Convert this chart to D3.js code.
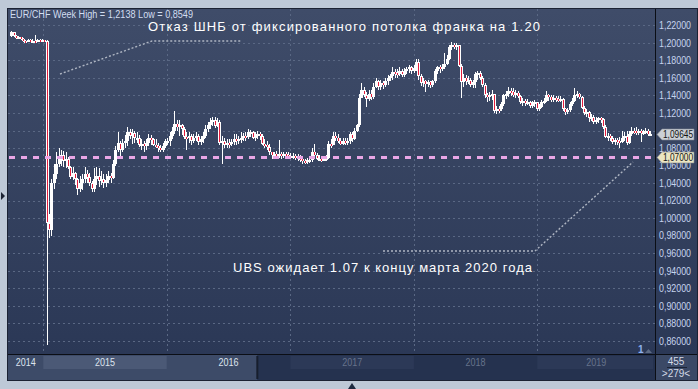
<!DOCTYPE html>
<html>
<head>
<meta charset="utf-8">
<script src="https://cdn.jsdelivr.net/npm/d3@7"></script>
<style>
  html, body { margin: 0; padding: 0; background: #bec9d7; }
  svg { display: block; font-family: "Liberation Sans", Arial, sans-serif; }
</style>
</head>
<body>
<svg id="chart" width="698" height="389"></svg>
<script>
// weekly EUR/CHF candles, first week starts 2014-09-28
const firstOpen = 1.2075;
const closes = [
  1.2120,1.2080,1.2060,1.2065,1.2040,1.2025,1.2020,1.2030,1.2020,1.2025,
  1.2020,1.2030,1.2025,1.2030,1.2020,0.9950,0.9870,1.0400,1.0500,1.0620,
  1.0680,1.0720,1.0650,1.0680,1.0580,1.0470,1.0520,1.0450,1.0330,1.0400,
  1.0450,1.0500,1.0470,1.0400,1.0330,1.0450,1.0480,1.0430,1.0450,1.0400,
  1.0440,1.0480,1.0460,1.0620,1.0780,1.0860,1.0780,1.0860,1.0880,1.0980,
  1.0940,1.0970,1.0920,1.0920,1.0830,1.0850,1.0820,1.0860,1.0920,1.0900,
  1.0840,1.0820,1.0800,1.0780,1.0820,1.0880,1.0880,1.0940,1.1000,1.1080,
  1.1040,1.1060,1.1020,1.0930,1.0920,1.0940,1.0880,1.0920,1.0940,1.0870,
  1.0900,1.0940,1.1020,1.1060,1.1100,1.1120,1.1050,1.1100,1.0860,1.0880,
  1.0840,1.0860,1.0850,1.0870,1.0900,1.0880,1.0900,1.0920,1.0940,1.0930,
  1.0980,1.0980,1.0920,1.0940,1.0960,1.0940,1.0850,1.0840,1.0810,1.0750,
  1.0720,1.0730,1.0720,1.0730,1.0720,1.0730,1.0720,1.0710,1.0700,1.0710,
  1.0700,1.0690,1.0680,1.0650,1.0640,1.0660,1.0660,1.0750,1.0720,1.0680,
  1.0680,1.0670,1.0680,1.0690,1.0850,1.0830,1.0940,1.0920,1.0880,1.0850,
  1.0880,1.0870,1.0880,1.0960,1.0900,1.1000,1.1060,1.1370,1.1460,1.1410,
  1.1360,1.1420,1.1380,1.1500,1.1560,1.1500,1.1540,1.1520,1.1560,1.1600,
  1.1620,1.1670,1.1660,1.1640,1.1680,1.1630,1.1680,1.1700,1.1720,1.1680,
  1.1710,1.1780,1.1620,1.1540,1.1560,1.1530,1.1550,1.1520,1.1560,1.1680,
  1.1720,1.1700,1.1730,1.1760,1.1820,1.1950,1.1980,1.1960,1.1970,1.1740,
  1.1550,1.1600,1.1570,1.1580,1.1520,1.1550,1.1640,1.1660,1.1600,1.1520,
  1.1400,1.1380,1.1400,1.1420,1.1220,1.1250,1.1240,1.1300,1.1400,1.1420,
  1.1450,1.1440,1.1400,1.1430,1.1390,1.1320,1.1340,1.1310,1.1330,1.1280,
  1.1300,1.1320,1.1250,1.1270,1.1320,1.1340,1.1400,1.1380,1.1350,1.1370,
  1.1360,1.1340,1.1360,1.1240,1.1210,1.1230,1.1300,1.1340,1.1400,1.1420,
  1.1380,1.1260,1.1200,1.1210,1.1140,1.1160,1.1100,1.1120,1.1140,1.1130,
  1.1040,1.0930,1.0940,1.0920,1.0870,1.0890,1.0880,1.0870,1.0920,1.0940,
  1.0860,1.0960,1.1000,1.0990,1.0970,1.0990,1.0970,1.0980,1.1000,1.0955,
  1.09645
];
const highs = [
  1.2138,1.2125,1.2090,1.2080,1.2070,1.2050,1.2035,1.2040,1.2040,1.2045,
  1.2090,1.2045,1.2040,1.2040,1.2035,1.2030,1.0050,1.0450,1.0620,1.0750,
  1.0800,1.0780,1.0770,1.0760,1.0700,1.0600,1.0580,1.0530,1.0460,1.0480,
  1.0500,1.0580,1.0550,1.0520,1.0420,1.0570,1.0580,1.0570,1.0540,1.0500,
  1.0500,1.0540,1.0520,1.0660,1.0820,1.0980,1.0880,1.0900,1.0950,1.1040,
  1.1020,1.1020,1.1000,1.0980,1.0950,1.0900,1.0880,1.0900,1.0960,1.0950,
  1.0920,1.0900,1.0860,1.0840,1.0860,1.0900,1.0920,1.0980,1.1040,1.1220,
  1.1120,1.1120,1.1080,1.1040,1.0980,1.0980,1.0960,1.0960,1.0980,1.0960,
  1.0940,1.0980,1.1060,1.1100,1.1140,1.1160,1.1150,1.1140,1.1120,1.0940,
  1.0920,1.0900,1.0900,1.0900,1.0960,1.0960,1.0940,1.0980,1.0970,1.0980,
  1.1020,1.1010,1.1000,1.0980,1.0990,1.0980,1.0960,1.0900,1.0880,1.0850,
  1.0760,1.0760,1.0770,1.0890,1.0760,1.0760,1.0760,1.0750,1.0740,1.0740,
  1.0730,1.0730,1.0720,1.0700,1.0680,1.0690,1.0700,1.0800,1.0850,1.0740,
  1.0720,1.0710,1.0710,1.0720,1.0880,1.0900,1.0980,1.0980,1.0960,1.0920,
  1.0910,1.0910,1.0920,1.0980,1.0980,1.1030,1.1080,1.1420,1.1540,1.1500,
  1.1440,1.1460,1.1460,1.1540,1.1600,1.1580,1.1580,1.1570,1.1600,1.1630,
  1.1650,1.1730,1.1700,1.1700,1.1720,1.1700,1.1710,1.1730,1.1750,1.1740,
  1.1750,1.1820,1.1820,1.1650,1.1600,1.1580,1.1580,1.1570,1.1580,1.1700,
  1.1740,1.1750,1.1760,1.1880,1.1860,1.1980,1.2005,1.2000,1.2000,1.1980,
  1.1760,1.1650,1.1630,1.1620,1.1600,1.1580,1.1670,1.1680,1.1680,1.1620,
  1.1540,1.1430,1.1440,1.1460,1.1420,1.1280,1.1280,1.1320,1.1420,1.1450,
  1.1500,1.1490,1.1480,1.1460,1.1450,1.1410,1.1370,1.1360,1.1360,1.1340,
  1.1340,1.1350,1.1330,1.1300,1.1350,1.1370,1.1450,1.1420,1.1400,1.1400,
  1.1390,1.1390,1.1390,1.1370,1.1260,1.1260,1.1320,1.1370,1.1480,1.1450,
  1.1430,1.1390,1.1280,1.1240,1.1220,1.1190,1.1180,1.1150,1.1160,1.1160,
  1.1140,1.1060,1.0970,1.0960,1.0940,1.0920,1.0910,1.0930,1.1000,1.0980,
  1.1000,1.0990,1.1040,1.1030,1.1040,1.1020,1.1020,1.1010,1.1030,1.1020,
  1.0990
];
const lows = [
  1.2065,1.2065,1.2045,1.2045,1.2030,1.2010,1.2005,1.2010,1.2010,1.2010,
  1.2010,1.2015,1.2015,1.2015,1.2005,0.8549,0.9770,0.9800,1.0330,1.0450,
  1.0580,1.0600,1.0580,1.0570,1.0560,1.0450,1.0440,1.0380,1.0260,1.0300,
  1.0320,1.0400,1.0400,1.0370,1.0300,1.0300,1.0380,1.0360,1.0380,1.0340,
  1.0360,1.0400,1.0400,1.0450,1.0600,1.0750,1.0700,1.0750,1.0800,1.0820,
  1.0900,1.0850,1.0860,1.0860,1.0810,1.0780,1.0760,1.0780,1.0820,1.0840,
  1.0820,1.0800,1.0760,1.0750,1.0760,1.0800,1.0830,1.0820,1.0900,1.0960,
  1.1000,1.0940,1.0950,1.0900,1.0780,1.0860,1.0840,1.0860,1.0880,1.0840,
  1.0840,1.0860,1.0920,1.0980,1.1020,1.1050,1.1030,1.1040,1.0840,1.0620,
  1.0800,1.0800,1.0800,1.0820,1.0830,1.0840,1.0850,1.0860,1.0880,1.0880,
  1.0900,1.0930,1.0900,1.0880,1.0900,1.0890,1.0830,1.0800,1.0780,1.0720,
  1.0680,1.0690,1.0690,1.0690,1.0680,1.0690,1.0680,1.0670,1.0670,1.0680,
  1.0660,1.0650,1.0640,1.0620,1.0620,1.0620,1.0630,1.0640,1.0700,1.0660,
  1.0650,1.0640,1.0650,1.0650,1.0680,1.0800,1.0830,1.0880,1.0860,1.0840,
  1.0840,1.0830,1.0840,1.0850,1.0870,1.0890,1.0980,1.1040,1.1380,1.1380,
  1.1270,1.1340,1.1350,1.1360,1.1480,1.1460,1.1460,1.1470,1.1500,1.1520,
  1.1560,1.1580,1.1600,1.1600,1.1620,1.1610,1.1610,1.1640,1.1660,1.1650,
  1.1660,1.1680,1.1580,1.1510,1.1500,1.1440,1.1500,1.1490,1.1500,1.1540,
  1.1640,1.1660,1.1680,1.1700,1.1750,1.1800,1.1920,1.1930,1.1920,1.1720,
  1.1370,1.1500,1.1520,1.1530,1.1500,1.1490,1.1480,1.1580,1.1580,1.1500,
  1.1370,1.1320,1.1340,1.1350,1.1200,1.1190,1.1200,1.1220,1.1280,1.1360,
  1.1380,1.1390,1.1380,1.1370,1.1370,1.1300,1.1280,1.1280,1.1290,1.1260,
  1.1260,1.1270,1.1220,1.1220,1.1260,1.1300,1.1320,1.1340,1.1330,1.1330,
  1.1330,1.1320,1.1320,1.1220,1.1180,1.1190,1.1210,1.1280,1.1330,1.1370,
  1.1360,1.1240,1.1180,1.1160,1.1100,1.1110,1.1080,1.1080,1.1090,1.1090,
  1.1020,1.0910,1.0880,1.0880,1.0850,1.0840,1.0840,1.0800,1.0860,1.0880,
  1.0840,1.0850,1.0940,1.0960,1.0950,1.0950,1.0870,1.0950,1.0960,1.0940,
  1.0940
];

const priceTicks = [0.86, 0.88, 0.90, 0.92, 0.94, 0.96, 0.98, 1.00, 1.02, 1.04,
                    1.06, 1.08, 1.10, 1.12, 1.14, 1.16, 1.18, 1.20, 1.22];
const gridYears = [2015, 2016, 2017, 2018, 2019];
const navYears = [2014, 2015, 2016, 2017, 2018, 2019];
const lastPrice = 1.09645;
const targetPrice = 1.07;
const titleText = "EUR/CHF Week High = 1,2138 Low = 0,8549";
const snbNote = "Отказ ШНБ от фиксированного потолка франка на 1.20";
const ubsNote = "UBS ожидает 1.07 к концу марта 2020 года";

const W = 698, H = 389;
const plot = {left: 8, right: 655, top: 9, bottom: 354};
const navBottom = 381;

const svg = d3.select("#chart");

let x = d3.scaleTime()
    .domain([new Date(2015, 0, 1), new Date(2019, 0, 1)])
    .range([43.3, 537.3]);
let y = d3.scaleLinear()
    .domain([0.86, 1.22])
    .range([341, 25.3]);
const fmt = d => d3.format(".5f")(d).replace(".", ",");

let defs = svg.append("defs");
let grad = defs.append("linearGradient")
    .attr("id", "bg")
    .attr("gradientUnits", "userSpaceOnUse")
    .attr("x1", 0).attr("y1", plot.top).attr("x2", 0).attr("y2", plot.bottom);
grad.append("stop").attr("offset", "0%").attr("stop-color", "#3f4c69");
grad.append("stop").attr("offset", "100%").attr("stop-color", "#2b3856");
defs.append("clipPath").attr("id", "clip")
    .append("rect")
    .attr("x", plot.left).attr("y", plot.top)
    .attr("width", plot.right - plot.left).attr("height", plot.bottom - plot.top);

svg.append("rect").attr("width", W).attr("height", H).attr("fill", "#bec9d7");
svg.append("rect")
    .attr("x", 7).attr("y", 8)
    .attr("width", W - 7).attr("height", navBottom - 8)
    .attr("fill", "url(#bg)");

// navigator strip under the plot
let nav = svg.append("g");
const split = x(new Date(2016, 8, 25));
nav.append("rect").attr("x", plot.left).attr("y", plot.bottom)
    .attr("width", split - plot.left).attr("height", navBottom - plot.bottom)
    .attr("fill", "#3d4b68");
nav.append("rect").attr("x", split).attr("y", plot.bottom)
    .attr("width", plot.right - split).attr("height", navBottom - plot.bottom)
    .attr("fill", "#25324f");
nav.append("rect").attr("x", plot.right).attr("y", plot.bottom)
    .attr("width", W - plot.right).attr("height", navBottom - plot.bottom)
    .attr("fill", "#3b4966");
nav.selectAll("rect.band")
    .data(navYears.filter(d => d % 2 === 1))
    .enter()
    .append("rect")
    .attr("class", "band")
    .attr("x", d => x(new Date(d, 0, 1)))
    .attr("y", plot.bottom + 2)
    .attr("width", d => Math.min(x(new Date(d + 1, 0, 1)), plot.right - 2) - x(new Date(d, 0, 1)))
    .attr("height", 13)
    .attr("fill", d => x(new Date(d, 0, 1)) < split ? "#4b5976" : "#2c3957");
nav.append("rect").attr("x", split - 1).attr("y", plot.bottom + 2)
    .attr("width", 2).attr("height", navBottom - plot.bottom - 4)
    .attr("fill", "#171e2d");
nav.selectAll("text.year")
    .data(navYears)
    .enter()
    .append("text")
    .attr("class", "year")
    .attr("x", d => {
        let a = Math.max(x(new Date(d, 0, 1)), plot.left);
        let b = Math.min(x(new Date(d + 1, 0, 1)), plot.right);
        return (a + b) / 2;
    })
    .attr("y", 366)
    .attr("text-anchor", "middle")
    .attr("font-size", 10)
    .attr("textLength", 20)
    .attr("lengthAdjust", "spacingAndGlyphs")
    .attr("fill", d => x(new Date(d, 6, 1)) < split ? "#dde4ee" : "#66738b")
    .text(d => d);

// grid
let grid = svg.append("g").attr("clip-path", "url(#clip)");
grid.selectAll("line.h")
    .data(priceTicks)
    .enter()
    .append("line")
    .attr("x1", plot.left).attr("x2", plot.right)
    .attr("y1", d => Math.round(y(d)) + 0.5).attr("y2", d => Math.round(y(d)) + 0.5)
    .attr("stroke", "#5a6884")
    .attr("stroke-dasharray", "2,3");
grid.selectAll("line.v")
    .data(gridYears)
    .enter()
    .append("line")
    .attr("x1", d => Math.round(x(new Date(d, 0, 1))) + 0.5)
    .attr("x2", d => Math.round(x(new Date(d, 0, 1))) + 0.5)
    .attr("y1", plot.top).attr("y2", plot.bottom)
    .attr("stroke", "#5a6884")
    .attr("stroke-dasharray", "2,3");

// candles
const weeks = d3.timeWeek.range(new Date(2014, 8, 28), new Date(2019, 11, 2));
const candles = closes.map((c, i) => ({
    date: weeks[i],
    open: i ? closes[i - 1] : firstOpen,
    high: highs[i],
    low: lows[i],
    close: c
}));

let scatter = svg.append("g")
    .attr("clip-path", "url(#clip)")
    .attr("shape-rendering", "crispEdges");

let candle = scatter.selectAll("g.candle")
    .data(candles)
    .enter()
    .append("g")
    .attr("class", "candle");

const bodyTop = d => Math.round(y(Math.max(d.open, d.close)));
const bodyH = d => Math.max(2, Math.round(y(Math.min(d.open, d.close))) - bodyTop(d));

candle.append("rect")
    .attr("x", d => Math.round(x(d.date)))
    .attr("width", 1)
    .attr("y", d => Math.round(y(Math.max(d.high, d.open, d.close))))
    .attr("height", d => Math.max(1, Math.round(y(Math.min(d.low, d.open, d.close))) - Math.round(y(Math.max(d.high, d.open, d.close)))))
    .attr("fill", "#ffffff");

candle.append("rect")
    .attr("x", d => Math.round(x(d.date)) - 1)
    .attr("width", 3)
    .attr("y", bodyTop)
    .attr("height", bodyH)
    .attr("fill", "#ffffff");

candle.filter(d => d.close < d.open)
    .append("rect")
    .attr("x", d => Math.round(x(d.date)))
    .attr("width", 1)
    .attr("y", d => bodyH(d) > 3 ? bodyTop(d) + 1 : bodyTop(d))
    .attr("height", d => bodyH(d) > 3 ? bodyH(d) - 2 : bodyH(d))
    .attr("fill", "#e41c3c");

// target level
svg.append("line")
    .attr("x1", plot.left + 1).attr("x2", plot.right)
    .attr("y1", Math.round(y(targetPrice)) + 0.5).attr("y2", Math.round(y(targetPrice)) + 0.5)
    .attr("stroke", "#e9a6e6")
    .attr("stroke-width", 3)
    .attr("stroke-dasharray", "6,6");

// annotations
const leader = d3.line();
svg.append("path")
    .attr("d", leader([[60, 74], [152, 41], [242, 41]]))
    .attr("fill", "none")
    .attr("stroke", "#aeb5c2")
    .attr("stroke-width", 1.4)
    .attr("stroke-dasharray", "2,2");
svg.append("path")
    .attr("d", leader([[383, 251], [535, 251], [633, 162]]))
    .attr("fill", "none")
    .attr("stroke", "#aeb5c2")
    .attr("stroke-width", 1.4)
    .attr("stroke-dasharray", "2,2");

svg.append("text")
    .attr("x", 148).attr("y", 31)
    .attr("font-size", 13)
    .attr("textLength", 392)
    .attr("lengthAdjust", "spacing")
    .attr("fill", "#ffffff")
    .text(snbNote);
svg.append("text")
    .attr("x", 233).attr("y", 272)
    .attr("font-size", 13)
    .attr("textLength", 299)
    .attr("lengthAdjust", "spacing")
    .attr("fill", "#ffffff")
    .text(ubsNote);
svg.append("text")
    .attr("x", 10).attr("y", 18)
    .attr("font-size", 10)
    .attr("textLength", 183)
    .attr("lengthAdjust", "spacingAndGlyphs")
    .attr("fill", "#d2ddf0")
    .text(titleText);

// right price axis; the label under the last-price tag is covered in the original
let yAxis = svg.append("g")
    .attr("transform", "translate(" + plot.right + ",0)")
    .call(d3.axisRight(y)
        .tickValues(priceTicks.filter(d => Math.abs(y(d) - y(lastPrice)) > 4))
        .tickSize(0).tickPadding(4).tickFormat(fmt));
yAxis.select(".domain").remove();
yAxis.attr("font-family", null).attr("font-size", null);
yAxis.selectAll("text")
    .attr("font-size", 10)
    .attr("textLength", 32)
    .attr("lengthAdjust", "spacingAndGlyphs")
    .attr("fill", "#c6d4ee");

function priceTag(value, fill) {
    const cy = Math.round(y(value)) + 0.5;
    svg.append("path")
        .attr("d", "M657," + cy + " L662," + (cy - 5.5) + " H694 V" + (cy + 5.5) + " H662 Z")
        .attr("fill", fill)
        .attr("stroke", "#7d8390")
        .attr("stroke-width", 0.6);
    svg.append("text")
        .attr("x", 663).attr("y", cy)
        .attr("dy", "0.35em")
        .attr("font-size", 10)
        .attr("textLength", 30)
        .attr("lengthAdjust", "spacingAndGlyphs")
        .attr("fill", "#141414")
        .text(fmt(value));
}
priceTag(lastPrice, "#ccd0d6");
priceTag(targetPrice, "#ebe6c2");

// frame lines
svg.append("line")
    .attr("x1", plot.left).attr("x2", W)
    .attr("y1", plot.bottom + 0.5).attr("y2", plot.bottom + 0.5)
    .attr("stroke", "#0b0e15");
svg.append("line")
    .attr("x1", plot.right + 0.5).attr("x2", plot.right + 0.5)
    .attr("y1", 8).attr("y2", navBottom)
    .attr("stroke", "#0b0e15");
svg.append("rect")
    .attr("x", 7.5).attr("y", 8.5)
    .attr("width", W - 8).attr("height", navBottom - 9)
    .attr("fill", "none")
    .attr("stroke", "#1b2233");

// bar counter
svg.append("text").attr("x", 676).attr("y", 364.5)
    .attr("text-anchor", "middle").attr("font-size", 10).attr("fill", "#d3dae6").text("455");
svg.append("line").attr("x1", 667).attr("x2", 687).attr("y1", 367.5).attr("y2", 367.5)
    .attr("stroke", "#1c2436");
svg.append("text").attr("x", 676).attr("y", 377)
    .attr("text-anchor", "middle").attr("font-size", 10).attr("fill", "#d3dae6").text(">279<");
svg.append("text").attr("x", 638).attr("y", 353)
    .attr("font-size", 10).attr("font-weight", "bold").attr("fill", "#8eb1ee").text("1");
svg.append("path").attr("d", "M645,353 L648.5,349 L652,353 Z").attr("fill", "#5c6a84");

// small markers on the outer border
svg.append("path").attr("d", "M1,192 L5,196 L1,200 Z").attr("fill", "#1c2333");
svg.append("path").attr("d", "M348,389 L352,383 L356,389 Z").attr("fill", "#1c2a40");
</script>
</body>
</html>
